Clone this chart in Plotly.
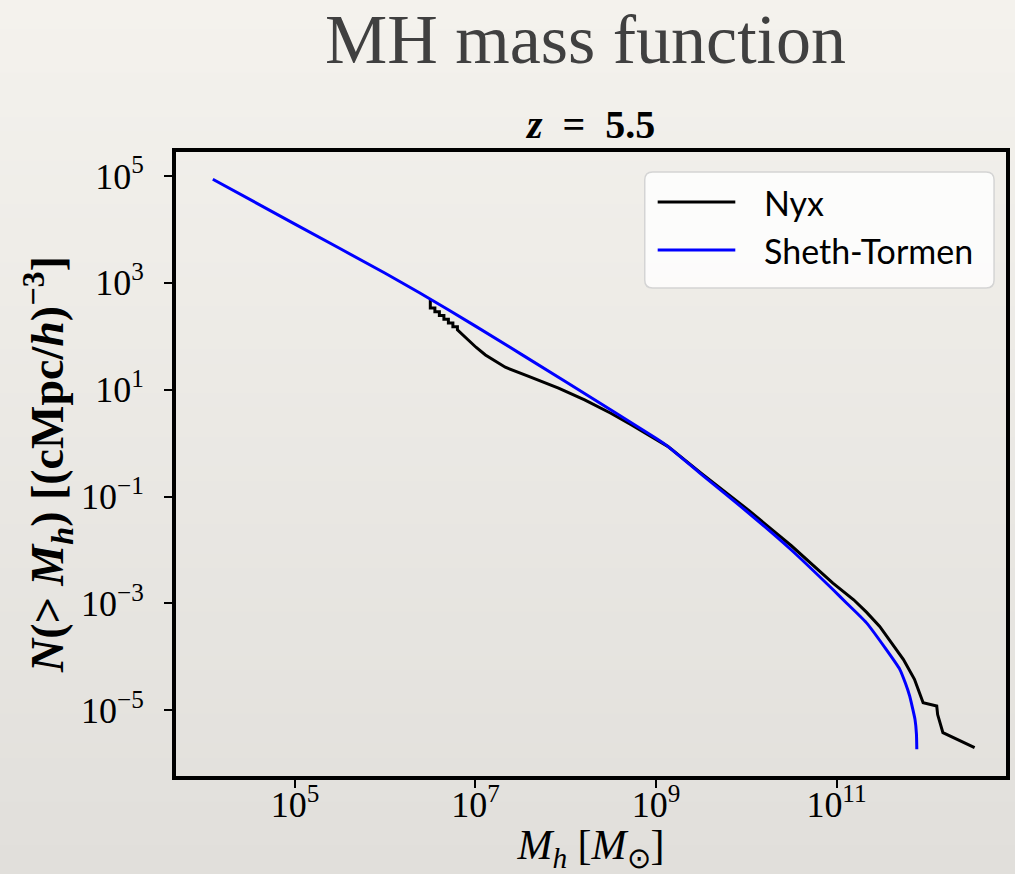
import plotly.graph_objects as go

# Cumulative halo mass function at z = 5.5
series_names = ["Nyx", "Sheth-Tormen"]

# Nyx simulation: halo mass [Msun] and cumulative number density [(cMpc/h)^-3]
nyx_mass = [3.16e6, 3.16e6, 3.55e6, 3.55e6, 3.98e6, 3.98e6, 4.47e6, 4.47e6,
            5.01e6, 5.01e6, 5.62e6, 5.62e6, 6.31e6, 6.31e6,
            8.32e6, 1.02e7, 1.29e7, 1.66e7, 2.14e7, 3.89e7, 8.32e7, 1.62e8,
            3.16e8, 5.25e8, 8.71e8, 1.35e9, 3.16e9, 1.0e10, 3.16e10, 9.12e10,
            1.55e11, 2.16e11, 3.01e11, 4.07e11, 5.52e11, 7.31e11, 7.94e11,
            9.12e11, 1.29e12, 1.32e12, 1.51e12, 3.39e12]
nyx_n = [479, 339, 339, 288, 288, 245, 245, 209,
         209, 178, 178, 151, 151, 132,
         85.1, 61.7, 44.7, 33.9, 26.3, 17.8, 10.7, 6.46,
         3.63, 2.24, 1.35, 0.871, 0.275, 0.0603, 0.0120, 2.40e-3,
         1.17e-3, 6.79e-4, 3.72e-4, 1.86e-4, 8.91e-5, 3.80e-5, 2.63e-5,
         1.38e-5, 1.20e-5, 8.32e-6, 3.80e-6, 2.0e-6]

# Sheth-Tormen analytic prediction
st_mass = [1.23e4, 1.0e5, 1.0e6, 2.37e6, 1.0e7, 1.0e8, 1.0e9, 1.35e9,
           3.16e9, 1.0e10, 3.16e10, 9.12e10, 1.29e11, 2.14e11, 3.55e11,
           5.01e11, 5.82e11, 6.46e11, 6.92e11, 7.41e11, 7.69e11, 7.76e11]
st_n = [8.7e4, 1.26e4, 1.51e3, 661, 155, 14.1, 1.23, 0.871,
        0.263, 0.0537, 0.0100, 1.82e-3, 1.02e-3, 4.37e-4, 1.38e-4,
        5.89e-5, 3.16e-5, 1.86e-5, 1.15e-5, 6.76e-6, 3.55e-6, 1.86e-6]

# Tick positions and labels
x_tick_vals = [1e5, 1e7, 1e9, 1e11]
x_tick_text = ["10<sup>5</sup>", "10<sup>7</sup>", "10<sup>9</sup>", "10<sup>11</sup>"]
y_tick_vals = [1e5, 1e3, 1e1, 1e-1, 1e-3, 1e-5]
y_tick_text = ["10<sup>5</sup>", "10<sup>3</sup>", "10<sup>1</sup>",
               "10<sup>−1</sup>", "10<sup>−3</sup>", "10<sup>−5</sup>"]

line_colors = ["black", "#0000ff"]

W, H = 1015, 874
L, R, T, B = 176, 5, 152, 98
PW, PH = W - L - R, H - T - B


def px(x):
    return (x - L) / PW


def py(y):
    return (H - B - y) / PH


fig = go.Figure()
fig.add_trace(go.Scatter(x=nyx_mass, y=nyx_n, mode="lines", name=series_names[0],
                         line=dict(color=line_colors[0], width=3), showlegend=False))
fig.add_trace(go.Scatter(x=st_mass, y=st_n, mode="lines", name=series_names[1],
                         line=dict(color=line_colors[1], width=3, shape="spline",
                                   smoothing=0.5), showlegend=False))

shapes = []
# paper-like background: soft vertical gradient
n_bands = 60
top_rgb = (244, 242, 237)
bot_rgb = (225, 223, 219)
for i in range(n_bands):
    f = i / (n_bands - 1)
    c = tuple(round(top_rgb[k] + (bot_rgb[k] - top_rgb[k]) * f) for k in range(3))
    y0 = i * H / n_bands
    y1 = (i + 1) * H / n_bands + 1
    shapes.append(dict(type="rect", xref="paper", yref="paper", layer="below",
                       x0=px(-5), x1=px(W + 5), y0=py(y1), y1=py(y0),
                       fillcolor="rgb(%d,%d,%d)" % c, line=dict(width=0)))

# legend box with rounded corners
bx0, bx1, by0, by1 = px(647), px(998), py(288), py(172)
rx, ry = 8 / PW, 8 / PH
path = (f"M {bx0+rx},{by1} L {bx1-rx},{by1} Q {bx1},{by1} {bx1},{by1-ry} "
        f"L {bx1},{by0+ry} Q {bx1},{by0} {bx1-rx},{by0} L {bx0+rx},{by0} "
        f"Q {bx0},{by0} {bx0},{by0+ry} L {bx0},{by1-ry} Q {bx0},{by1} {bx0+rx},{by1} Z")
shapes.append(dict(type="path", xref="paper", yref="paper", path=path,
                   fillcolor="rgba(255,255,255,0.8)", line=dict(color="#d4d4d4", width=1.5)))

annotations = []
for i, (name, col) in enumerate(zip(series_names, line_colors)):
    yy = py(202 + 48 * i)
    shapes.append(dict(type="line", xref="paper", yref="paper",
                       x0=px(660), x1=px(738), y0=yy, y1=yy,
                       line=dict(color=col, width=3)))
    annotations.append(dict(text=name, xref="paper", yref="paper", x=px(765), y=yy,
                            xanchor="left", yanchor="middle", showarrow=False,
                            font=dict(family="Lato", size=34, color="black")))

# slide heading and panel title
annotations.append(dict(text="MH mass function", xref="paper", yref="paper",
                        x=px(587), y=py(40), xanchor="center", yanchor="middle",
                        showarrow=False,
                        font=dict(family="Liberation Serif", size=70, color="#404040")))
annotations.append(dict(text="<b><i>z</i>&nbsp;&nbsp;=&nbsp;&nbsp;5.5</b>",
                        xref="paper", yref="paper",
                        x=px(592), y=py(125), xanchor="center", yanchor="middle",
                        showarrow=False,
                        font=dict(family="Liberation Serif", size=40, color="black")))

axis_common = dict(type="log", showgrid=False, zeroline=False, showline=True,
                   linecolor="black", linewidth=4, mirror=True, ticks="outside",
                   ticklen=8, tickwidth=1.5, tickcolor="black",
                   tickfont=dict(family="Liberation Serif", size=36, color="black"))

fig.update_layout(
    width=W, height=H,
    margin=dict(l=L, r=R, t=T, b=B),
    paper_bgcolor="rgb(235,233,228)",
    plot_bgcolor="rgba(0,0,0,0)",
    showlegend=False,
    shapes=shapes,
    annotations=annotations,
    xaxis=dict(axis_common, range=[3.682, 12.878], tickvals=x_tick_vals,
               ticktext=x_tick_text, ticklabelstandoff=-14,
               title=dict(text="<i>M<sub>h</sub></i> [<i>M</i><sub>⊙</sub>]",
                          font=dict(family="Liberation Serif", size=42, color="black"),
                          standoff=2)),
    yaxis=dict(axis_common, range=[-6.23, 5.449], tickvals=y_tick_vals,
               ticktext=y_tick_text, ticklabelstandoff=13,
               title=dict(text="<b><i>N</i>(&gt; <i>M<sub>h</sub></i>) [(cMpc/<i>h</i>)<sup>−3</sup>]</b>",
                          font=dict(family="Liberation Serif", size=46, color="black"),
                          standoff=4)),
)

fig.write_html("out.html")
